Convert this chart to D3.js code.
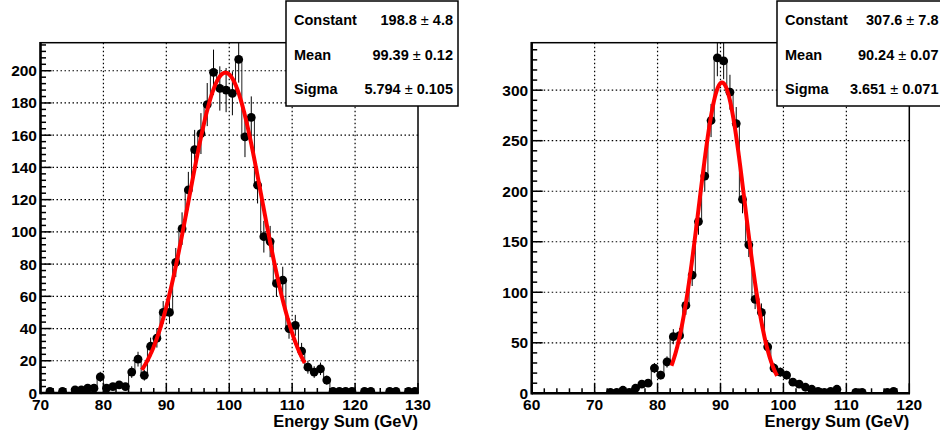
<!DOCTYPE html>
<html><head><meta charset="utf-8">
<script src="https://cdn.jsdelivr.net/npm/d3@7"></script>
<style>
body{margin:0;background:#fff}
svg text{font-family:"Liberation Sans",Arial,Helvetica,sans-serif;font-weight:bold;fill:#000}
</style>
</head><body>
<svg id="c" width="940" height="436"></svg>
<script>
// ---------- DATA ----------
const leftBinCenters = [71.5,73.5,75.5,76.5,77.5,78.5,79.5,80.5,81.5,82.5,83.5,84.5,85.5,86.5,87.5,88.5,89.5,90.5,91.5,92.5,93.5,94.5,95.5,96.5,97.5,98.5,99.5,100.5,101.5,102.5,103.5,104.5,105.5,106.5,107.5,108.5,109.5,110.5,111.5,112.5,113.5,114.5,115.5,116.5,117.5,118.5,119.5,121.5,122.5,125.5,126.5,128.5,129.5];
const leftCounts     = [1,1,2,2,3,3,10,3,4,5,4,13,21,11,29,34,50,50,81,102,126,151,161,179,199,189,188,186,207,159,171,129,97,94,68,70,40,42,26,16,13,15,8,1,1,1,1,1,1,1,1,1,1];
const leftXTicks = [70,80,90,100,110,120,130];
const leftYTicks = [0,20,40,60,80,100,120,140,160,180,200];
const leftStatNames  = ["Constant","Mean","Sigma"];
const leftStatValues = ["198.8","99.39","5.794"];
const leftStatErrors = ["4.8","0.12","0.105"];
const leftFitRange = [86.1, 112.0];

const rightBinCenters = [72.5,73.5,74.5,75.5,76.5,77.5,78.5,79.5,80.5,81.5,82.5,83.5,84.5,85.5,86.5,87.5,88.5,89.5,90.5,91.5,92.5,93.5,94.5,95.5,96.5,97.5,98.5,99.5,100.5,101.5,102.5,103.5,104.5,105.5,106.5,107.5,108.5,111.5,112.5,116.5,117.5];
const rightCounts     = [1,1,3,1,5,9,10,25,18,31,56,57,87,117,170,215,270,332,329,298,267,192,147,93,80,46,25,21,18,11,9,6,4,2,1,2,4,1,1,1,2];
const rightXTicks = [60,70,80,90,100,110,120];
const rightYTicks = [0,50,100,150,200,250,300];
const rightStatNames  = ["Constant","Mean","Sigma"];
const rightStatValues = ["307.6","90.24","3.651"];
const rightStatErrors = ["7.8","0.07","0.071"];
const rightFitRange = [82.2, 99.0];

const xTitle = "Energy Sum (GeV)";

// ---------- DRAW ----------
const svg = d3.select("#c");

function panel(o){
  const x = d3.scaleLinear().domain(o.xDom).range([o.x0, o.x1]);
  const y = d3.scaleLinear().domain(o.yDom).range([o.y1, o.y0]);
  const g = svg.append("g");
  const clipId = "clip" + o.id;
  svg.append("clipPath").attr("id", clipId).append("rect")
    .attr("x", o.x0).attr("y", o.y0).attr("width", o.x1-o.x0).attr("height", o.y1-o.y0);

  // grid
  const grid = g.append("g").attr("stroke","#000").attr("stroke-width",1.2).attr("stroke-dasharray","1.5,2.5");
  o.xTicks.filter(v=>v>o.xDom[0] && v<o.xDom[1]).forEach(v=>{
    grid.append("line").attr("x1",x(v)).attr("x2",x(v)).attr("y1",o.y0).attr("y2",o.y1);
  });
  o.yTicks.filter(v=>v>o.yDom[0] && v<o.yDom[1]).forEach(v=>{
    grid.append("line").attr("x1",o.x0).attr("x2",o.x1).attr("y1",y(v)).attr("y2",y(v));
  });

  const data = o.centers.map((c,i)=>({c, n:o.counts[i]}));
  const cnt = new Map(data.map(d=>[d.c, d.n]));
  const first = o.centers[0], last = o.centers[o.centers.length-1];
  const steps = [];
  for (let c = first; c <= last + 1e-9; c += 1) steps.push([c-0.5, cnt.get(c) || 0]);
  steps.push([last+0.5, cnt.get(last)]);
  const dg = g.append("g").attr("clip-path", `url(#${clipId})`);
  dg.append("path").attr("d", d3.line().x(d=>x(d[0])).y(d=>y(d[1])).curve(d3.curveStepAfter)(steps))
    .attr("fill","none").attr("stroke","#222").attr("stroke-width",1);

  // error bars
  dg.selectAll("line.err").data(data).join("line").attr("class","err")
    .attr("x1",d=>x(d.c)).attr("x2",d=>x(d.c))
    .attr("y1",d=>y(d.n+Math.sqrt(d.n))).attr("y2",d=>y(Math.max(0,d.n-Math.sqrt(d.n))))
    .attr("stroke","#000").attr("stroke-width",1);
  // markers
  dg.selectAll("circle").data(data).join("circle")
    .attr("cx",d=>x(d.c)).attr("cy",d=>y(d.n)).attr("r",4.4).attr("fill","#000");

  // fit curve
  const A = +o.statValues[0], mu = +o.statValues[1], sg = +o.statValues[2];
  const fx = d3.range(o.fitRange[0], o.fitRange[1]+1e-9, 0.05);
  dg.append("path").attr("d", d3.line().x(v=>x(v)).y(v=>y(A*Math.exp(-0.5*((v-mu)/sg)**2)))(fx))
    .attr("fill","none").attr("stroke","#ff0000").attr("stroke-width",4).attr("stroke-linejoin","round");

  // frame
  g.append("rect").attr("x",o.x0).attr("y",o.y0).attr("width",o.x1-o.x0).attr("height",o.y1-o.y0)
    .attr("fill","none").attr("stroke","#000").attr("stroke-width",1.5);

  // axes with ticks inward
  const ax = g.append("g").attr("stroke","#000");
  ax.append("line").attr("x1",o.x0).attr("x2",o.x1+0.7).attr("y1",o.y1).attr("y2",o.y1).attr("stroke-width",2.5);
  ax.append("line").attr("x1",o.x0).attr("x2",o.x0).attr("y1",o.y0-0.7).attr("y2",o.y1+1.2).attr("stroke-width",2.5);
  // x ticks
  const xMinor = d3.range(o.xDom[0], o.xDom[1]+1e-9, o.xMinor);
  xMinor.forEach(v=>{
    const major = o.xTicks.some(t=>Math.abs(t-v)<1e-6);
    ax.append("line").attr("x1",x(v)).attr("x2",x(v)).attr("y1",o.y1).attr("y2",o.y1-(major?10:5)).attr("stroke-width",1.5);
  });
  const yMinor = d3.range(o.yDom[0], o.yDom[1]+1e-9, o.yMinor);
  yMinor.forEach(v=>{
    const major = o.yTicks.some(t=>Math.abs(t-v)<1e-6);
    ax.append("line").attr("x1",o.x0).attr("x2",o.x0+(major?11:5.5)).attr("y1",y(v)).attr("y2",y(v)).attr("stroke-width",1.5);
  });

  // tick labels
  g.selectAll("text.xt").data(o.xTicks).join("text").attr("class","xt")
    .attr("x",d=>x(d)).attr("y",o.y1+17).attr("text-anchor","middle").attr("font-size",15.5).text(d=>d);
  g.selectAll("text.yt").data(o.yTicks).join("text").attr("class","yt")
    .attr("x",o.x0-3.5).attr("y",d=>y(d)+5.5).attr("text-anchor","end").attr("font-size",15.5).text(d=>d);
  // axis title
  g.append("text").attr("x",o.x1).attr("y",o.y1+34).attr("text-anchor","end").attr("font-size",16.5).text(xTitle);

  // stats box
  const sb = svg.append("g");
  sb.append("rect").attr("x",o.boxX).attr("y",1).attr("width",172).attr("height",105)
    .attr("fill","#fff").attr("stroke","#000").attr("stroke-width",1.5);
  const base = [25, 60, 94];
  o.statNames.forEach((nm,i)=>{
    sb.append("text").attr("x",o.boxX+8).attr("y",base[i]).attr("font-size",14.5).text(nm);
    const t = sb.append("text").attr("x",o.valRight).attr("y",base[i]).attr("text-anchor","end").attr("font-size",14.5);
    t.append("tspan").text(o.statValues[i]);
    t.append("tspan").attr("font-weight","normal").text(" \u00B1 ");
    t.append("tspan").text(o.statErrors[i]);
  });
}

panel({id:"L", x0:40.5, x1:418, y0:42.7, y1:393, xDom:[70,130], yDom:[0,217.4],
  xTicks:leftXTicks, yTicks:leftYTicks, xMinor:2, yMinor:4,
  centers:leftBinCenters, counts:leftCounts, fitRange:leftFitRange,
  statNames:leftStatNames, statValues:leftStatValues, statErrors:leftStatErrors,
  boxX:286, valRight:453});
panel({id:"R", x0:531.7, x1:909.3, y0:42.7, y1:393.3, xDom:[60,120], yDom:[0,347],
  xTicks:rightXTicks, yTicks:rightYTicks, xMinor:2, yMinor:10,
  centers:rightBinCenters, counts:rightCounts, fitRange:rightFitRange,
  statNames:rightStatNames, statValues:rightStatValues, statErrors:rightStatErrors,
  boxX:777, valRight:938.5});
</script>
</body></html>
